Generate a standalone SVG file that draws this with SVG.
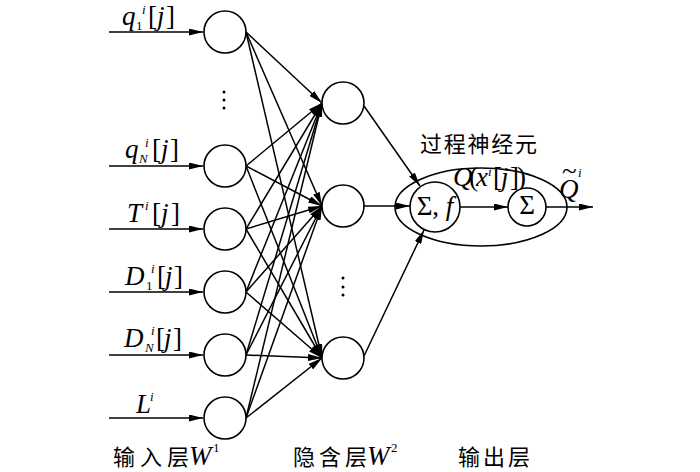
<svg xmlns="http://www.w3.org/2000/svg" width="700" height="472" viewBox="0 0 700 472">
<defs>
<marker id="ah" markerUnits="userSpaceOnUse" markerWidth="14" markerHeight="7" refX="14" refY="3.5" orient="auto" viewBox="0 0 14 7">
<path d="M0,0 L14,3.5 L0,7 z" fill="#000"/>
</marker>
<style>
.n{fill:#fff;stroke:#000;stroke-width:1.6}
.c line{stroke:#000;stroke-width:1.5;marker-end:url(#ah)}
.m{font-family:"Liberation Serif","Times New Roman",serif;font-size:27px;fill:#000}
.it{font-style:italic}
.s{font-size:13px}
.cjk{font-family:"Noto Sans CJK SC","Noto Sans",sans-serif;font-size:22px;fill:#000}
.dot{fill:#000}
</style>
</defs>
<rect width="700" height="472" fill="#fff"/>

<g id="connectors" class="c">
<line x1="109" y1="32" x2="203" y2="32"/>
<line x1="109" y1="166" x2="203" y2="166"/>
<line x1="109" y1="229" x2="203" y2="229"/>
<line x1="109" y1="292" x2="203" y2="292"/>
<line x1="109" y1="355" x2="203" y2="355"/>
<line x1="109" y1="418" x2="203" y2="418"/>

<line x1="246" y1="32" x2="322" y2="103"/>
<line x1="246" y1="32" x2="322" y2="206"/>
<line x1="246" y1="32" x2="322" y2="358"/>
<line x1="246" y1="166" x2="322" y2="103"/>
<line x1="246" y1="166" x2="322" y2="206"/>
<line x1="246" y1="166" x2="322" y2="358"/>
<line x1="246" y1="229" x2="322" y2="103"/>
<line x1="246" y1="229" x2="322" y2="206"/>
<line x1="246" y1="229" x2="322" y2="358"/>
<line x1="246" y1="292" x2="322" y2="103"/>
<line x1="246" y1="292" x2="322" y2="206"/>
<line x1="246" y1="292" x2="322" y2="358"/>
<line x1="246" y1="355" x2="322" y2="103"/>
<line x1="246" y1="355" x2="322" y2="206"/>
<line x1="246" y1="355" x2="322" y2="358"/>
<line x1="246" y1="418" x2="322" y2="103"/>
<line x1="246" y1="418" x2="322" y2="206"/>
<line x1="246" y1="418" x2="322" y2="358"/>

<line x1="364" y1="106" x2="420" y2="186"/>
<line x1="364" y1="206" x2="410" y2="206"/>
<line x1="364" y1="356" x2="424" y2="230"/>
<line x1="460" y1="207" x2="508" y2="207"/>
<line x1="546" y1="207" x2="593" y2="207"/>
</g>

<g id="in1"><circle class="n" cx="225" cy="32" r="21"/>
<text class="m" y="25"><tspan class="it" x="122">q</tspan><tspan class="s" x="136" y="30">1</tspan><tspan class="s it" x="142" y="14">i</tspan><tspan x="148" y="25">[</tspan><tspan class="it" x="157">j</tspan><tspan x="166">]</tspan></text></g>
<g id="in2"><circle class="n" cx="225" cy="166" r="21"/>
<text class="m" y="158"><tspan class="it" x="125">q</tspan><tspan class="s it" x="139" y="163">N</tspan><tspan class="s it" x="145" y="147">i</tspan><tspan x="152" y="158">[</tspan><tspan class="it" x="161">j</tspan><tspan x="170">]</tspan></text></g>
<g id="in3"><circle class="n" cx="225" cy="229" r="21"/>
<text class="m" y="222"><tspan class="it" x="127">T</tspan><tspan class="s it" x="145" y="210">i</tspan><tspan x="152" y="222">[</tspan><tspan class="it" x="161">j</tspan><tspan x="171">]</tspan></text></g>
<g id="in4"><circle class="n" cx="225" cy="292" r="21"/>
<text class="m" y="285"><tspan class="it" x="125">D</tspan><tspan class="s" x="146" y="290">1</tspan><tspan class="s it" x="151" y="273">i</tspan><tspan x="157" y="285">[</tspan><tspan class="it" x="165">j</tspan><tspan x="174">]</tspan></text></g>
<g id="in5"><circle class="n" cx="225" cy="355" r="21"/>
<text class="m" y="347"><tspan class="it" x="124">D</tspan><tspan class="s it" x="145" y="352">N</tspan><tspan class="s it" x="151" y="335">i</tspan><tspan x="156" y="347">[</tspan><tspan class="it" x="164">j</tspan><tspan x="173">]</tspan></text></g>
<g id="in6"><circle class="n" cx="225" cy="418" r="21"/>
<text class="m" y="413"><tspan class="it" x="136">L</tspan><tspan class="s it" x="150" y="401">i</tspan></text></g>

<g id="dots1"><circle class="dot" cx="224" cy="92" r="1.5"/><circle class="dot" cx="224" cy="100" r="1.5"/><circle class="dot" cx="224" cy="108" r="1.5"/></g>

<g id="h1"><circle class="n" cx="343" cy="103" r="21"/></g>
<g id="h2"><circle class="n" cx="343" cy="206" r="21"/></g>
<g id="h3"><circle class="n" cx="343" cy="358" r="21"/></g>
<g id="dots2"><circle class="dot" cx="343" cy="278" r="1.5"/><circle class="dot" cx="343" cy="287" r="1.5"/><circle class="dot" cx="343" cy="295" r="1.5"/></g>

<g id="process-neuron">
<ellipse cx="481" cy="207" rx="86" ry="39" fill="none" stroke="#000" stroke-width="1.6"/>
<text class="cjk" x="420" y="152" textLength="117" lengthAdjust="spacing">过程神经元</text>
<text class="m" y="186" font-size="24"><tspan class="it" x="453">Q</tspan><tspan x="469">(</tspan><tspan class="it" x="476">x</tspan><tspan class="s it" x="488" y="176">i</tspan><tspan x="493" y="186">[</tspan><tspan class="it" x="501">j</tspan><tspan x="510">]</tspan><tspan x="517">)</tspan></text>
</g>
<g id="sigma-f"><circle class="n" cx="435" cy="207" r="25"/>
<text class="m" x="435" y="215" font-size="23" text-anchor="middle">Σ, <tspan class="it">f</tspan></text></g>
<g id="sigma"><circle class="n" cx="527" cy="207" r="19"/>
<text class="m" x="527" y="214" font-size="20" text-anchor="middle">Σ</text></g>

<g id="output-label">
<text class="m" font-size="25"><tspan class="it" x="559" y="198">Q</tspan><tspan x="562" y="180">~</tspan><tspan class="s it" x="578" y="177">i</tspan></text>
</g>

<g id="layer-labels">
<text class="cjk" x="113" y="465" textLength="76" lengthAdjust="spacing">输入层</text>
<text class="m it" x="189" y="465" font-size="25">W</text><text class="m s" x="213" y="452">1</text>
<text class="cjk" x="293" y="465" textLength="74" lengthAdjust="spacing">隐含层</text>
<text class="m it" x="367" y="465" font-size="25">W</text><text class="m s" x="391" y="452">2</text>
<text class="cjk" x="458" y="465" textLength="72" lengthAdjust="spacing">输出层</text>
</g>
</svg>
